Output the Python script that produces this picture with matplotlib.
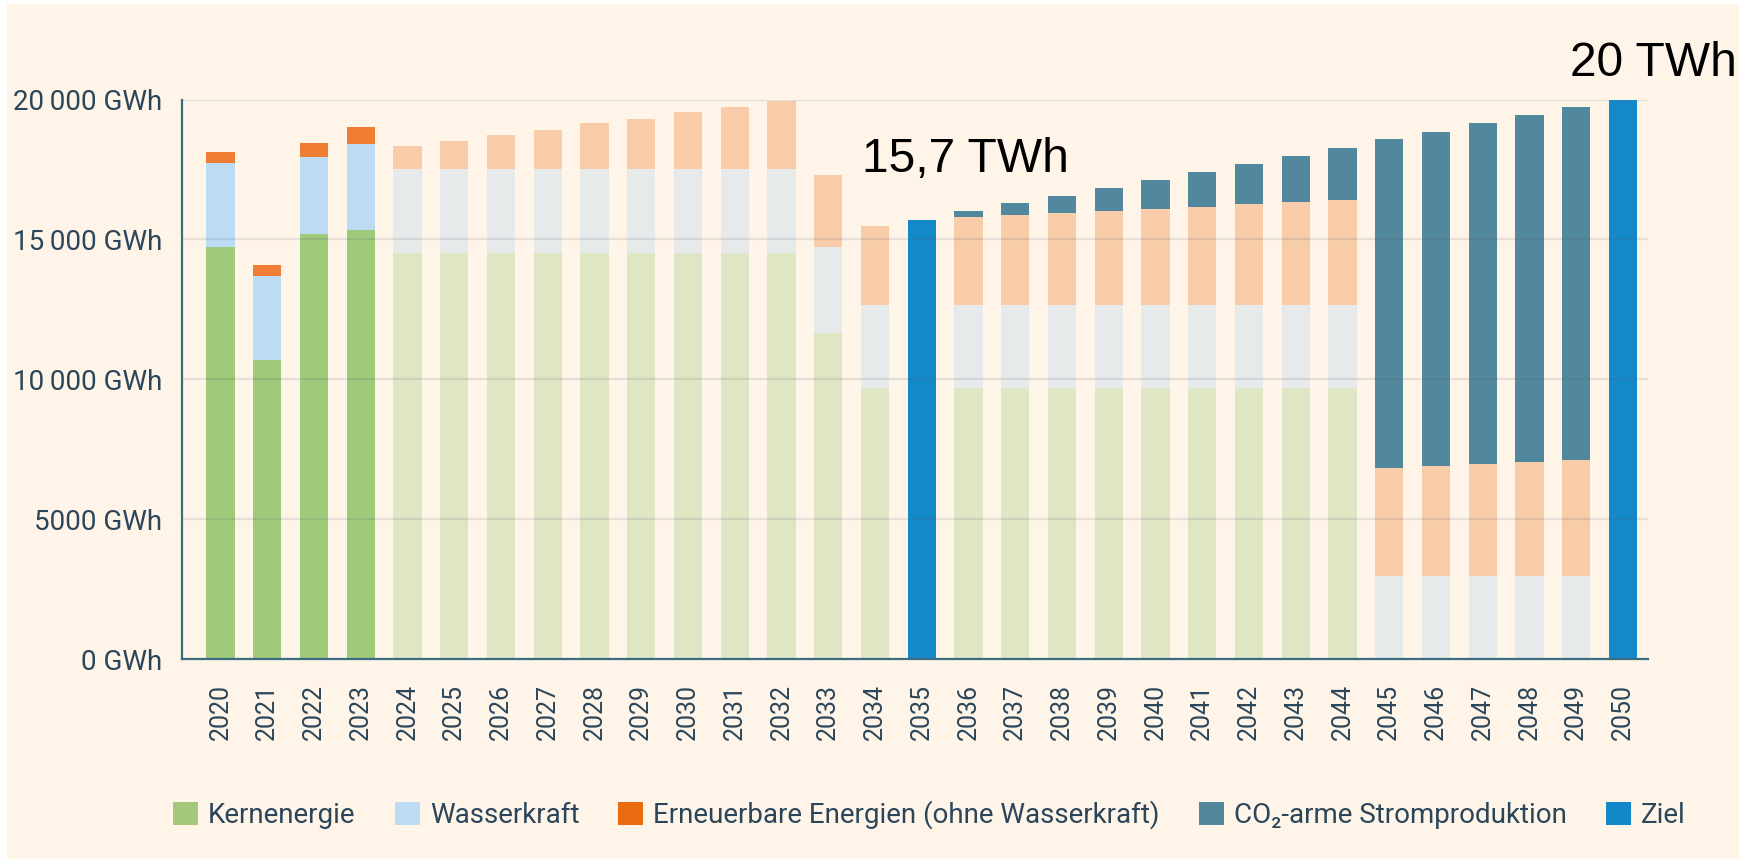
import matplotlib
matplotlib.use("Agg")
import matplotlib.pyplot as plt
from matplotlib.patches import Rectangle, Patch
import numpy as np

# ---------------- data ----------------
years = list(range(2020, 2051))
last_actual_year = 2023

kernenergie = [14730, 10690, 15200, 15340,
               14500, 14500, 14500, 14500, 14500, 14500, 14500, 14500, 14500,
               11670, 9680, 0,
               9680, 9680, 9680, 9680, 9680, 9680, 9680, 9680, 9680,
               0, 0, 0, 0, 0, 0]
wasserkraft = [2990, 3000, 2730, 3070,
               3000, 3000, 3000, 3000, 3000, 3000, 3000, 3000, 3000,
               3040, 2970, 0,
               2970, 2970, 2970, 2970, 2970, 2970, 2970, 2970, 2970,
               2970, 2970, 2970, 2970, 2970, 0]
erneuerbare = [390, 410, 510, 610,
               830, 1000, 1230, 1420, 1660, 1820, 2050, 2220, 2450,
               2600, 2840, 0,
               3140, 3220, 3300, 3360, 3450, 3520, 3600, 3680, 3760,
               3840, 3920, 4000, 4080, 4160, 0]
co2_arm = [0, 0, 0, 0,
           0, 0, 0, 0, 0, 0, 0, 0, 0,
           0, 0, 0,
           220, 420, 610, 840, 1040, 1250, 1440, 1650, 1860,
           11770, 11960, 12180, 12390, 12600, 0]
ziel = [0] * 15 + [15700] + [0] * 14 + [20000]

y_ticks = [0, 5000, 10000, 15000, 20000]
y_tick_labels = ["0 GWh", "5000 GWh", "10\u2009000 GWh", "15\u2009000 GWh", "20\u2009000 GWh"]
legend_labels = ["Kernenergie", "Wasserkraft", "Erneuerbare Energien (ohne Wasserkraft)",
                 "CO\u2082-arme Stromproduktion", "Ziel"]
annot_2035 = "15,7 TWh"
annot_2050 = "20 TWh"

# ---------------- style ----------------
cream = "#fef4e8"
text_col = "#2b465a"
spine_col = "#3a6c82"
c_kern = ("#a0c97a", "#dfe6c4")
c_wasser = ("#bddcf4", "#e7eaea")
c_ern = ("#ef7e34", "#f8cca8")
c_co2 = "#52889d"
c_ziel = "#1588c9"
leg_colors = ["#a2c97b", "#bddcf4", "#ec6a10", "#52879c", "#1487c9"]

W, H = 1756, 859
fig = plt.figure(figsize=(W / 100, H / 100), dpi=100, facecolor="white")
fig.patches.append(Rectangle((7 / W, 0), (1739 - 7) / W, (H - 4) / H,
                             transform=fig.transFigure, facecolor=cream,
                             edgecolor="none", zorder=-10))

ax_l, ax_r, ax_t, ax_b = 182, 1648, 99.5, 659
ax = fig.add_axes([ax_l / W, 1 - ax_b / H, (ax_r - ax_l) / W, (ax_b - ax_t) / H])
ax.set_facecolor("none")

x = np.arange(len(years))
actual = np.array(years) <= last_actual_year
width = 0.605

def cols(pair):
    return [pair[0] if a else pair[1] for a in actual]

k = np.array(kernenergie, float)
w = np.array(wasserkraft, float)
e = np.array(erneuerbare, float)
c = np.array(co2_arm, float)
z = np.array(ziel, float)

ax.bar(x, k, width, color=cols(c_kern), zorder=2, linewidth=0)
ax.bar(x, w, width, bottom=k, color=cols(c_wasser), zorder=2, linewidth=0)
ax.bar(x, e, width, bottom=k + w, color=cols(c_ern), zorder=2, linewidth=0)
ax.bar(x, c, width, bottom=k + w + e, color=c_co2, zorder=2, linewidth=0)
ax.bar(x, z, width, color=c_ziel, zorder=2, linewidth=0)

ax.set_ylim(0, 20000)
ax.set_xlim(-0.824, 30.535)
ax.set_yticks(y_ticks)
ax.set_yticklabels(y_tick_labels, family=["Roboto", "DejaVu Sans"],
                   fontsize=20, color=text_col)
ax.set_xticks(x)
ax.set_xticklabels([str(yv) for yv in years], rotation=90,
                   family=["Roboto", "DejaVu Sans"], fontsize=18,
                   color=text_col)
ax.tick_params(axis="y", length=0, pad=14)
ax.tick_params(axis="x", length=0, pad=18)

for yt in y_ticks[1:]:
    ax.axhline(yt, color=(0.35, 0.35, 0.45, 0.14), lw=1.6, zorder=3)

for s in ["top", "right"]:
    ax.spines[s].set_visible(False)
for s in ["left", "bottom"]:
    ax.spines[s].set_color(spine_col)
    ax.spines[s].set_linewidth(1.6)
    ax.spines[s].set_zorder(4)

i35 = years.index(2035)
i50 = years.index(2050)
ax.text(i35 - 1.28, 17410, annot_2035, family=["Liberation Sans", "DejaVu Sans"],
        fontsize=34.5, color="black", ha="left", va="baseline", clip_on=False)
ax.text(i50 + 2.44, 20850, annot_2050, family=["Liberation Sans", "DejaVu Sans"],
        fontsize=34.5, color="black", ha="right", va="baseline", clip_on=False)

handles = [Patch(facecolor=col, edgecolor="none") for col in leg_colors]
fig.legend(handles, legend_labels, loc="center", ncol=5,
           bbox_to_anchor=(929.5 / W, 1 - 815 / H), frameon=False,
           prop={"family": ["Roboto", "DejaVu Sans"], "size": 20},
           labelcolor=text_col, handlelength=0.9, handleheight=0.9,
           handletextpad=0.36, columnspacing=1.41, borderpad=0, borderaxespad=0)

fig.savefig("out.png", dpi=100, facecolor="white")
